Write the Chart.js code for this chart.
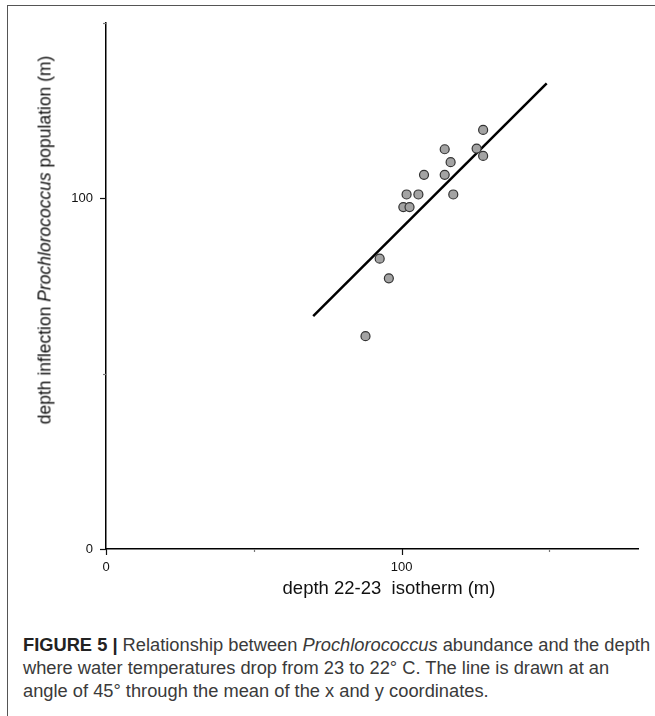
<!DOCTYPE html>
<html>
<head>
<meta charset="utf-8">
<title>Figure 5</title>
<script src="https://cdn.jsdelivr.net/npm/chart.js@4"></script>
<style>
  html, body { margin: 0; padding: 0; background: #fff; }
  body { width: 655px; height: 716px; position: relative; overflow: hidden; font-family: 'Liberation Sans', Arial, sans-serif; }
  .frame-top  { position: absolute; left: 8px; top: 5px; width: 647px; height: 0; border-top: 1.5px solid #555; }
  .frame-left { position: absolute; left: 7px; top: 5px; width: 0; height: 711px; border-left: 1.5px solid #555; }
  #wrap { position: absolute; left: 0; top: 0; width: 655px; height: 620px; }
  .ytitle {
    position: absolute; left: 45px; top: 240px;
    transform: translate(-50%, -50%) rotate(-90deg);
    white-space: nowrap; font-size: 17.5px; color: #111;
  }
  .xtitle {
    position: absolute; left: 389px; top: 588px;
    transform: translate(-50%, -50%);
    white-space: nowrap; font-size: 18.5px; color: #111;
  }
  .caption {
    position: absolute; left: 23px; top: 633px; margin: 0;
    font-size: 18.3px; line-height: 23px; color: #3a3a3a; white-space: nowrap;
  }
  .caption b { color: #222; }
</style>
</head>
<body>
<div class="frame-top"></div>
<div class="frame-left"></div>
<div id="wrap"><canvas id="fig"></canvas></div>
<div class="ytitle">depth inflection <i>Prochlorococcus</i> population (m)</div>
<div class="xtitle">depth 22-23&nbsp; isotherm (m)</div>
<p class="caption"><b>FIGURE 5 |</b> Relationship between <i>Prochlorococcus</i> abundance and the depth<br>where water temperatures drop from 23 to 22° C. The line is drawn at an<br>angle of 45° through the mean of the x and y coordinates.</p>

<script>
'use strict';

/* ─────────────────────────────────────────────────────────
   DATA
───────────────────────────────────────────────────────── */
const isothermDepth   = [127.6, 114.6, 125.4, 127.6, 116.6, 107.6, 114.6, 101.7, 105.7, 117.5, 100.6, 102.7, 92.6, 95.7, 87.8];
const inflectionDepth = [119.5, 114.0, 114.2, 112.1, 110.3, 106.7, 106.7, 101.1, 101.1, 101.1, 97.5, 97.5, 82.8, 77.2, 60.7];

// 45° line through the means
const lineX = [70.1, 149.1];
const lineY = [66.4, 132.8];

const X_TICKS   = [0, 50, 100, 150];
const Y_TICKS   = [0, 50, 100, 150];
const LABELED   = [0, 100];
const X_MAX     = 180;
const Y_MAX     = 150;

/* ─────────────────────────────────────────────────────────
   TICK MARKS (major long, minor short)
───────────────────────────────────────────────────────── */
const tickMarks = {
  id: 'tickMarks',
  afterDraw(chart) {
    const { ctx, scales: { x, y } } = chart;
    ctx.save();
    ctx.lineWidth = 1.2;
    X_TICKS.forEach(v => {
      const px  = Math.round(x.getPixelForValue(v)) + 0.5;
      const len = LABELED.includes(v) ? 6 : 3;
      ctx.strokeStyle = LABELED.includes(v) ? '#111' : '#777';
      ctx.beginPath(); ctx.moveTo(px, x.top); ctx.lineTo(px, x.top + len); ctx.stroke();
    });
    Y_TICKS.forEach(v => {
      const py  = Math.round(y.getPixelForValue(v)) + 0.5;
      const len = LABELED.includes(v) ? 6 : 3;
      ctx.strokeStyle = LABELED.includes(v) ? '#111' : '#777';
      ctx.beginPath(); ctx.moveTo(y.right - len, py); ctx.lineTo(y.right, py); ctx.stroke();
    });
    ctx.restore();
  }
};

/* ─────────────────────────────────────────────────────────
   CHART
───────────────────────────────────────────────────────── */
const points = isothermDepth.map((v, i) => ({ x: v, y: inflectionDepth[i] }));
const line   = lineX.map((v, i) => ({ x: v, y: lineY[i] }));
const tickFont = { family: "'Liberation Sans', Arial, sans-serif", size: 13 };

new Chart(document.getElementById('fig'), {
  type: 'scatter',
  data: {
    datasets: [
      {
        type: 'line',
        data: line,
        borderColor: '#000',
        borderWidth: 2.5,
        pointRadius: 0,
        fill: false,
        order: 2
      },
      {
        data: points,
        pointRadius: 4.5,
        pointBackgroundColor: '#a3a3a3',
        pointBorderColor: '#333',
        pointBorderWidth: 1.2,
        order: 1
      }
    ]
  },
  options: {
    responsive: true,
    maintainAspectRatio: false,
    animation: false,
    layout: { padding: { left: 0, right: 17, top: 23, bottom: 0 } },
    plugins: { legend: { display: false }, tooltip: { enabled: false } },
    scales: {
      x: {
        type: 'linear', min: 0, max: X_MAX,
        afterBuildTicks: s => { s.ticks = X_TICKS.map(value => ({ value })); },
        afterFit: s => { s.height = 71; },
        grid: { display: false, drawTicks: false },
        border: { display: true, color: '#000', width: 1.5 },
        ticks: {
          padding: 11, color: '#111', font: tickFont, maxRotation: 0,
          callback: v => LABELED.includes(v) ? String(v) : ''
        }
      },
      y: {
        type: 'linear', min: 0, max: Y_MAX,
        afterBuildTicks: s => { s.ticks = Y_TICKS.map(value => ({ value })); },
        afterFit: s => { s.width = 106; },
        grid: { display: false, drawTicks: false },
        border: { display: true, color: '#000', width: 1.5 },
        ticks: {
          padding: 13, color: '#111', font: tickFont,
          callback: v => LABELED.includes(v) ? String(v) : ''
        }
      }
    }
  },
  plugins: [tickMarks]
});
</script>
</body>
</html>
